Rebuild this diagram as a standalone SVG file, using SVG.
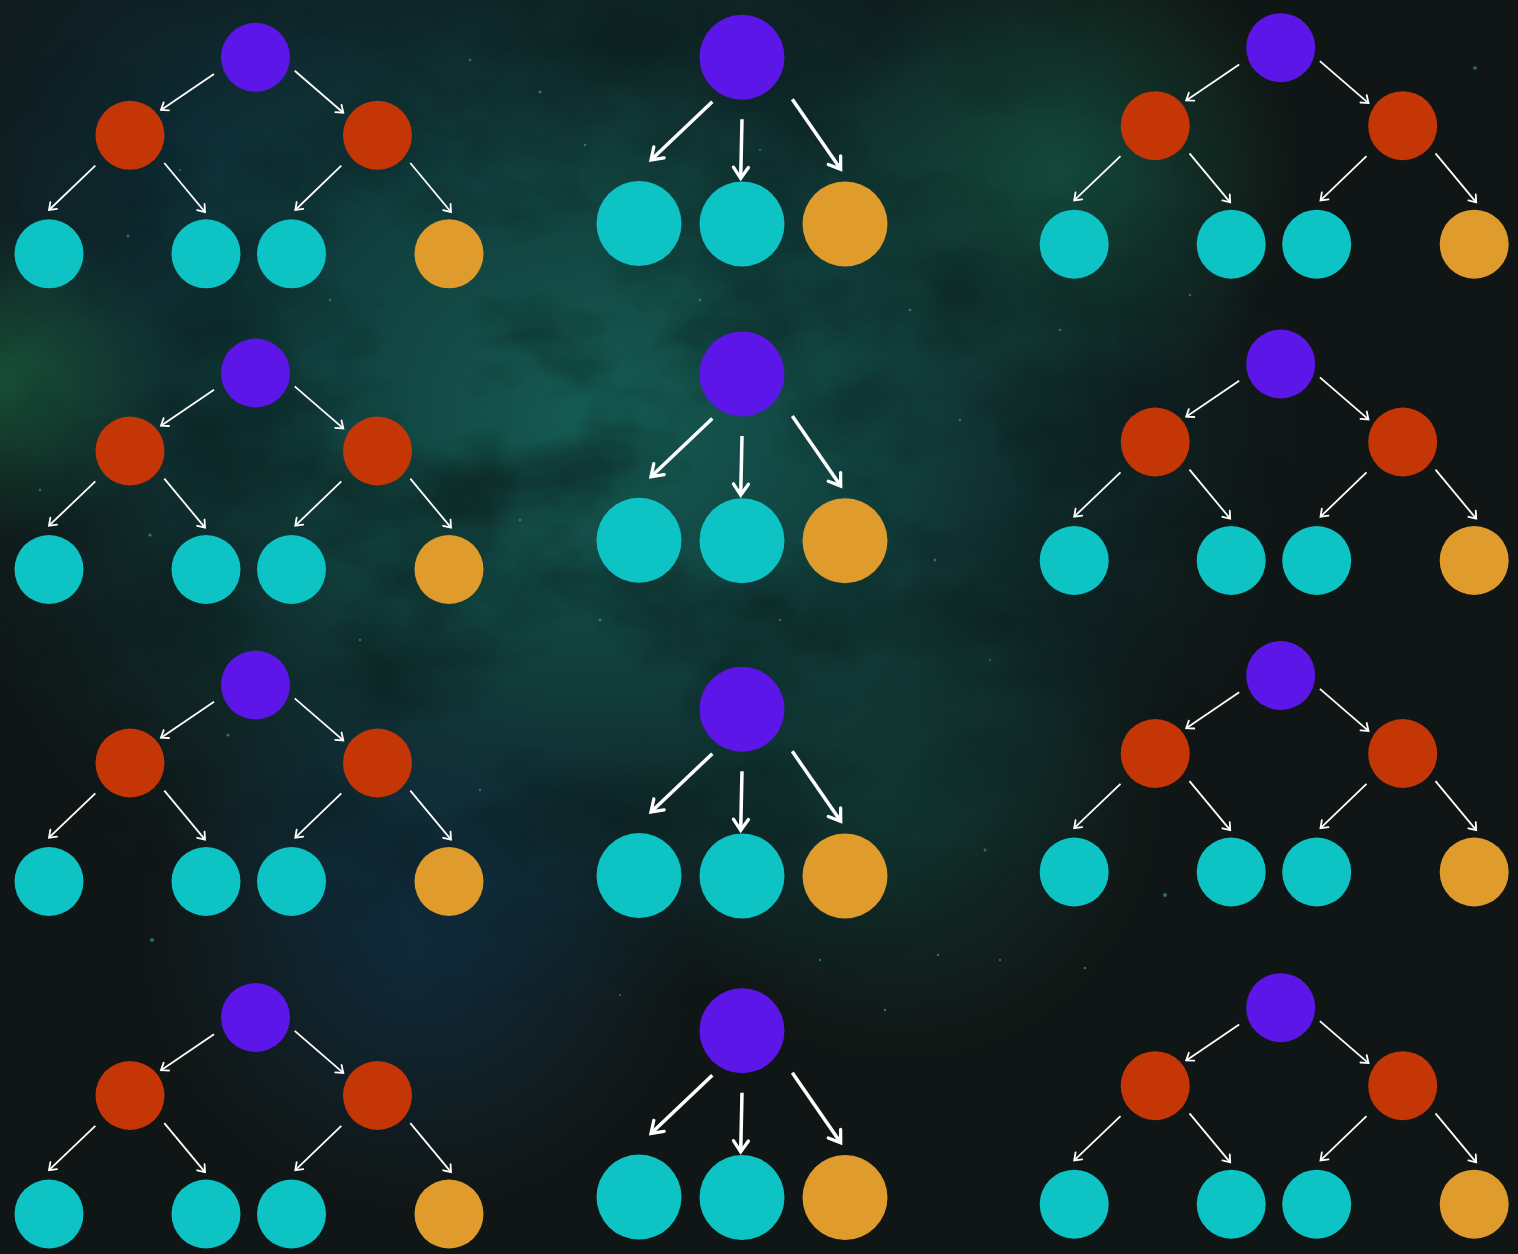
<svg xmlns="http://www.w3.org/2000/svg" width="1518" height="1254" viewBox="0 0 1518 1254">
  <style>
    .p { fill: #5c17e8; }
    .r { fill: #c43606; }
    .t { fill: #0ec3c4; }
    .o { fill: #e09b2d; }
    .sm { stroke: #ffffff; stroke-width: 1.8; fill: none; marker-end: url(#ahS); }
    .lg { stroke: #ffffff; stroke-width: 3.5; fill: none; marker-end: url(#ahL); }
    .star { fill: #3fa69a; }
  </style>
  <defs>
    <marker id="ahS" markerUnits="userSpaceOnUse" orient="auto" overflow="visible" refX="0" refY="0" markerWidth="10" markerHeight="10">
      <path d="M-6.5,-4.8 L0,0 L-6.5,4.8" fill="none" stroke="#ffffff" stroke-width="1.8" stroke-linecap="round" stroke-linejoin="miter"/>
    </marker>
    <marker id="ahL" markerUnits="userSpaceOnUse" orient="auto" overflow="visible" refX="0" refY="0" markerWidth="16" markerHeight="16">
      <path d="M-11,-7.5 L0,0 L-11,7.5" fill="none" stroke="#ffffff" stroke-width="3.3" stroke-linecap="round" stroke-linejoin="miter"/>
    </marker>
    <radialGradient id="g1" gradientUnits="userSpaceOnUse" cx="600" cy="420" r="700" gradientTransform="translate(600 420) scale(1 0.85) translate(-600 -420)">
      <stop offset="0" stop-color="#166158" stop-opacity="0.95"/>
      <stop offset="0.45" stop-color="#114a47" stop-opacity="0.75"/>
      <stop offset="0.8" stop-color="#0e3338" stop-opacity="0.35"/>
      <stop offset="1" stop-color="#0e2a2e" stop-opacity="0"/>
    </radialGradient>
    <radialGradient id="gm" gradientUnits="userSpaceOnUse" cx="600" cy="420" r="700" gradientTransform="translate(600 420) scale(1 0.85) translate(-600 -420)">
      <stop offset="0" stop-color="#ffffff"/>
      <stop offset="0.7" stop-color="#ffffff" stop-opacity="0.6"/>
      <stop offset="1" stop-color="#ffffff" stop-opacity="0"/>
    </radialGradient>
    <radialGradient id="g2" gradientUnits="userSpaceOnUse" cx="230" cy="160" r="380">
      <stop offset="0" stop-color="#0c3040" stop-opacity="0.7"/>
      <stop offset="1" stop-color="#0c3040" stop-opacity="0"/>
    </radialGradient>
    <radialGradient id="g3" gradientUnits="userSpaceOnUse" cx="1060" cy="170" r="240">
      <stop offset="0" stop-color="#155a44" stop-opacity="0.7"/>
      <stop offset="1" stop-color="#155a44" stop-opacity="0"/>
    </radialGradient>
    <radialGradient id="g4" gradientUnits="userSpaceOnUse" cx="10" cy="380" r="160">
      <stop offset="0" stop-color="#1c6440" stop-opacity="0.7"/>
      <stop offset="1" stop-color="#1c6440" stop-opacity="0"/>
    </radialGradient>
    <radialGradient id="g5" gradientUnits="userSpaceOnUse" cx="420" cy="930" r="280">
      <stop offset="0" stop-color="#113a58" stop-opacity="0.6"/>
      <stop offset="1" stop-color="#113a58" stop-opacity="0"/>
    </radialGradient>
    <radialGradient id="g6" gradientUnits="userSpaceOnUse" cx="900" cy="800" r="260">
      <stop offset="0" stop-color="#12483f" stop-opacity="0.55"/>
      <stop offset="1" stop-color="#12483f" stop-opacity="0"/>
    </radialGradient>
    <filter id="tex" x="0" y="0" width="100%" height="100%" color-interpolation-filters="sRGB">
      <feTurbulence type="fractalNoise" baseFrequency="0.006 0.009" numOctaves="4" seed="7"/>
      <feColorMatrix type="matrix" values="0 0 0 0 0.03  0 0 0 0 0.07  0 0 0 0 0.07  0 0 0 -2.4 1.4"/>
    </filter>
    <mask id="nebMask">
      <rect width="1518" height="1254" fill="url(#gm)"/>
    </mask>
  </defs>

  <g id="background">
    <rect width="1518" height="1254" fill="#101615"/>
    <rect width="1518" height="1254" fill="url(#g2)"/>
    <rect width="1518" height="1254" fill="url(#g1)"/>
    <rect width="1518" height="1254" fill="url(#g3)"/>
    <rect width="1518" height="1254" fill="url(#g4)"/>
    <rect width="1518" height="1254" fill="url(#g5)"/>
    <rect width="1518" height="1254" fill="url(#g6)"/>
    <g mask="url(#nebMask)">
      <rect width="1518" height="1254" filter="url(#tex)" opacity="0.6"/>
    </g>
    <g opacity="0.6">
      <circle class="star" cx="540" cy="92" r="1.6"/>
      <circle class="star" cx="585" cy="145" r="1.2"/>
      <circle class="star" cx="470" cy="60" r="1.3"/>
      <circle class="star" cx="128" cy="236" r="1.4"/>
      <circle class="star" cx="180" cy="170" r="1.1"/>
      <circle class="star" cx="330" cy="300" r="1.2"/>
      <circle class="star" cx="150" cy="535" r="1.6"/>
      <circle class="star" cx="40" cy="490" r="1.2"/>
      <circle class="star" cx="228" cy="735" r="1.5"/>
      <circle class="star" cx="152" cy="940" r="2"/>
      <circle class="star" cx="360" cy="640" r="1.2"/>
      <circle class="star" cx="520" cy="520" r="1.3"/>
      <circle class="star" cx="480" cy="790" r="1.2"/>
      <circle class="star" cx="600" cy="620" r="1.4"/>
      <circle class="star" cx="910" cy="310" r="1.3"/>
      <circle class="star" cx="960" cy="420" r="1.2"/>
      <circle class="star" cx="935" cy="560" r="1.4"/>
      <circle class="star" cx="990" cy="660" r="1.1"/>
      <circle class="star" cx="1165" cy="895" r="2"/>
      <circle class="star" cx="985" cy="850" r="1.5"/>
      <circle class="star" cx="885" cy="1010" r="1.3"/>
      <circle class="star" cx="938" cy="955" r="1.2"/>
      <circle class="star" cx="1060" cy="330" r="1.2"/>
      <circle class="star" cx="1475" cy="68" r="1.8"/>
      <circle class="star" cx="1190" cy="295" r="1.2"/>
      <circle class="star" cx="620" cy="995" r="1.1"/>
      <circle class="star" cx="700" cy="300" r="1.3"/>
      <circle class="star" cx="780" cy="620" r="1.2"/>
      <circle class="star" cx="820" cy="960" r="1.2"/>
      <circle class="star" cx="1000" cy="960" r="1.2"/>
      <circle class="star" cx="1085" cy="968" r="1.3"/>
      <circle class="star" cx="760" cy="150" r="1.1"/>
    </g>
  </g>

  <g id="connectors">
    <g transform="translate(255.5 57.3)">
      <line class="sm" x1="-41.5" y1="16.7" x2="-94.5" y2="52.7"/>
      <line class="sm" x1="39.2" y1="13.4" x2="87.8" y2="55.4"/>
      <line class="sm" x1="-160.2" y1="108.4" x2="-206.5" y2="152.7"/>
      <line class="sm" x1="-91.2" y1="105.7" x2="-50.5" y2="154.7"/>
      <line class="sm" x1="85.8" y1="108.4" x2="39.8" y2="152.7"/>
      <line class="sm" x1="154.8" y1="105.7" x2="195.5" y2="154.7"/>
    </g>
    <g transform="translate(255.5 373)">
      <line class="sm" x1="-41.5" y1="16.7" x2="-94.5" y2="52.7"/>
      <line class="sm" x1="39.2" y1="13.4" x2="87.8" y2="55.4"/>
      <line class="sm" x1="-160.2" y1="108.4" x2="-206.5" y2="152.7"/>
      <line class="sm" x1="-91.2" y1="105.7" x2="-50.5" y2="154.7"/>
      <line class="sm" x1="85.8" y1="108.4" x2="39.8" y2="152.7"/>
      <line class="sm" x1="154.8" y1="105.7" x2="195.5" y2="154.7"/>
    </g>
    <g transform="translate(255.5 685)">
      <line class="sm" x1="-41.5" y1="16.7" x2="-94.5" y2="52.7"/>
      <line class="sm" x1="39.2" y1="13.4" x2="87.8" y2="55.4"/>
      <line class="sm" x1="-160.2" y1="108.4" x2="-206.5" y2="152.7"/>
      <line class="sm" x1="-91.2" y1="105.7" x2="-50.5" y2="154.7"/>
      <line class="sm" x1="85.8" y1="108.4" x2="39.8" y2="152.7"/>
      <line class="sm" x1="154.8" y1="105.7" x2="195.5" y2="154.7"/>
    </g>
    <g transform="translate(255.5 1017.5)">
      <line class="sm" x1="-41.5" y1="16.7" x2="-94.5" y2="52.7"/>
      <line class="sm" x1="39.2" y1="13.4" x2="87.8" y2="55.4"/>
      <line class="sm" x1="-160.2" y1="108.4" x2="-206.5" y2="152.7"/>
      <line class="sm" x1="-91.2" y1="105.7" x2="-50.5" y2="154.7"/>
      <line class="sm" x1="85.8" y1="108.4" x2="39.8" y2="152.7"/>
      <line class="sm" x1="154.8" y1="105.7" x2="195.5" y2="154.7"/>
    </g>
    <g transform="translate(1280.7 47.7)">
      <line class="sm" x1="-41.5" y1="16.7" x2="-94.5" y2="52.7"/>
      <line class="sm" x1="39.2" y1="13.4" x2="87.8" y2="55.4"/>
      <line class="sm" x1="-160.2" y1="108.4" x2="-206.5" y2="152.7"/>
      <line class="sm" x1="-91.2" y1="105.7" x2="-50.5" y2="154.7"/>
      <line class="sm" x1="85.8" y1="108.4" x2="39.8" y2="152.7"/>
      <line class="sm" x1="154.8" y1="105.7" x2="195.5" y2="154.7"/>
    </g>
    <g transform="translate(1280.7 364)">
      <line class="sm" x1="-41.5" y1="16.7" x2="-94.5" y2="52.7"/>
      <line class="sm" x1="39.2" y1="13.4" x2="87.8" y2="55.4"/>
      <line class="sm" x1="-160.2" y1="108.4" x2="-206.5" y2="152.7"/>
      <line class="sm" x1="-91.2" y1="105.7" x2="-50.5" y2="154.7"/>
      <line class="sm" x1="85.8" y1="108.4" x2="39.8" y2="152.7"/>
      <line class="sm" x1="154.8" y1="105.7" x2="195.5" y2="154.7"/>
    </g>
    <g transform="translate(1280.7 675.5)">
      <line class="sm" x1="-41.5" y1="16.7" x2="-94.5" y2="52.7"/>
      <line class="sm" x1="39.2" y1="13.4" x2="87.8" y2="55.4"/>
      <line class="sm" x1="-160.2" y1="108.4" x2="-206.5" y2="152.7"/>
      <line class="sm" x1="-91.2" y1="105.7" x2="-50.5" y2="154.7"/>
      <line class="sm" x1="85.8" y1="108.4" x2="39.8" y2="152.7"/>
      <line class="sm" x1="154.8" y1="105.7" x2="195.5" y2="154.7"/>
    </g>
    <g transform="translate(1280.7 1007.7)">
      <line class="sm" x1="-41.5" y1="16.7" x2="-94.5" y2="52.7"/>
      <line class="sm" x1="39.2" y1="13.4" x2="87.8" y2="55.4"/>
      <line class="sm" x1="-160.2" y1="108.4" x2="-206.5" y2="152.7"/>
      <line class="sm" x1="-91.2" y1="105.7" x2="-50.5" y2="154.7"/>
      <line class="sm" x1="85.8" y1="108.4" x2="39.8" y2="152.7"/>
      <line class="sm" x1="154.8" y1="105.7" x2="195.5" y2="154.7"/>
    </g>
    <g transform="translate(742 57.3)">
      <line class="lg" x1="-29.7" y1="44.4" x2="-91" y2="102.7"/>
      <line class="lg" x1="0" y1="62" x2="-1.3" y2="121"/>
      <line class="lg" x1="50.3" y1="42" x2="98.7" y2="112"/>
    </g>
    <g transform="translate(742 374)">
      <line class="lg" x1="-29.7" y1="44.4" x2="-91" y2="102.7"/>
      <line class="lg" x1="0" y1="62" x2="-1.3" y2="121"/>
      <line class="lg" x1="50.3" y1="42" x2="98.7" y2="112"/>
    </g>
    <g transform="translate(742 709.3)">
      <line class="lg" x1="-29.7" y1="44.4" x2="-91" y2="102.7"/>
      <line class="lg" x1="0" y1="62" x2="-1.3" y2="121"/>
      <line class="lg" x1="50.3" y1="42" x2="98.7" y2="112"/>
    </g>
    <g transform="translate(742 1030.8)">
      <line class="lg" x1="-29.7" y1="44.4" x2="-91" y2="102.7"/>
      <line class="lg" x1="0" y1="62" x2="-1.3" y2="121"/>
      <line class="lg" x1="50.3" y1="42" x2="98.7" y2="112"/>
    </g>
  </g>

  <g id="tree-a1" transform="translate(255.5 57.3)">
    <g id="a1-root"><circle class="p" cx="0" cy="0" r="34.5"/></g>
    <g id="a1-l"><circle class="r" cx="-125.5" cy="78" r="34.5"/></g>
    <g id="a1-r"><circle class="r" cx="122" cy="78" r="34.5"/></g>
    <g id="a1-ll"><circle class="t" cx="-206.5" cy="196.5" r="34.5"/></g>
    <g id="a1-lr"><circle class="t" cx="-49.5" cy="196.5" r="34.5"/></g>
    <g id="a1-rl"><circle class="t" cx="36" cy="196.5" r="34.5"/></g>
    <g id="a1-rr"><circle class="o" cx="193.5" cy="196.5" r="34.5"/></g>
  </g>
  <g id="tree-a2" transform="translate(255.5 373)">
    <g id="a2-root"><circle class="p" cx="0" cy="0" r="34.5"/></g>
    <g id="a2-l"><circle class="r" cx="-125.5" cy="78" r="34.5"/></g>
    <g id="a2-r"><circle class="r" cx="122" cy="78" r="34.5"/></g>
    <g id="a2-ll"><circle class="t" cx="-206.5" cy="196.5" r="34.5"/></g>
    <g id="a2-lr"><circle class="t" cx="-49.5" cy="196.5" r="34.5"/></g>
    <g id="a2-rl"><circle class="t" cx="36" cy="196.5" r="34.5"/></g>
    <g id="a2-rr"><circle class="o" cx="193.5" cy="196.5" r="34.5"/></g>
  </g>
  <g id="tree-a3" transform="translate(255.5 685)">
    <g id="a3-root"><circle class="p" cx="0" cy="0" r="34.5"/></g>
    <g id="a3-l"><circle class="r" cx="-125.5" cy="78" r="34.5"/></g>
    <g id="a3-r"><circle class="r" cx="122" cy="78" r="34.5"/></g>
    <g id="a3-ll"><circle class="t" cx="-206.5" cy="196.5" r="34.5"/></g>
    <g id="a3-lr"><circle class="t" cx="-49.5" cy="196.5" r="34.5"/></g>
    <g id="a3-rl"><circle class="t" cx="36" cy="196.5" r="34.5"/></g>
    <g id="a3-rr"><circle class="o" cx="193.5" cy="196.5" r="34.5"/></g>
  </g>
  <g id="tree-a4" transform="translate(255.5 1017.5)">
    <g id="a4-root"><circle class="p" cx="0" cy="0" r="34.5"/></g>
    <g id="a4-l"><circle class="r" cx="-125.5" cy="78" r="34.5"/></g>
    <g id="a4-r"><circle class="r" cx="122" cy="78" r="34.5"/></g>
    <g id="a4-ll"><circle class="t" cx="-206.5" cy="196.5" r="34.5"/></g>
    <g id="a4-lr"><circle class="t" cx="-49.5" cy="196.5" r="34.5"/></g>
    <g id="a4-rl"><circle class="t" cx="36" cy="196.5" r="34.5"/></g>
    <g id="a4-rr"><circle class="o" cx="193.5" cy="196.5" r="34.5"/></g>
  </g>

  <g id="tree-c1" transform="translate(1280.7 47.7)">
    <g id="c1-root"><circle class="p" cx="0" cy="0" r="34.5"/></g>
    <g id="c1-l"><circle class="r" cx="-125.5" cy="78" r="34.5"/></g>
    <g id="c1-r"><circle class="r" cx="122" cy="78" r="34.5"/></g>
    <g id="c1-ll"><circle class="t" cx="-206.5" cy="196.5" r="34.5"/></g>
    <g id="c1-lr"><circle class="t" cx="-49.5" cy="196.5" r="34.5"/></g>
    <g id="c1-rl"><circle class="t" cx="36" cy="196.5" r="34.5"/></g>
    <g id="c1-rr"><circle class="o" cx="193.5" cy="196.5" r="34.5"/></g>
  </g>
  <g id="tree-c2" transform="translate(1280.7 364)">
    <g id="c2-root"><circle class="p" cx="0" cy="0" r="34.5"/></g>
    <g id="c2-l"><circle class="r" cx="-125.5" cy="78" r="34.5"/></g>
    <g id="c2-r"><circle class="r" cx="122" cy="78" r="34.5"/></g>
    <g id="c2-ll"><circle class="t" cx="-206.5" cy="196.5" r="34.5"/></g>
    <g id="c2-lr"><circle class="t" cx="-49.5" cy="196.5" r="34.5"/></g>
    <g id="c2-rl"><circle class="t" cx="36" cy="196.5" r="34.5"/></g>
    <g id="c2-rr"><circle class="o" cx="193.5" cy="196.5" r="34.5"/></g>
  </g>
  <g id="tree-c3" transform="translate(1280.7 675.5)">
    <g id="c3-root"><circle class="p" cx="0" cy="0" r="34.5"/></g>
    <g id="c3-l"><circle class="r" cx="-125.5" cy="78" r="34.5"/></g>
    <g id="c3-r"><circle class="r" cx="122" cy="78" r="34.5"/></g>
    <g id="c3-ll"><circle class="t" cx="-206.5" cy="196.5" r="34.5"/></g>
    <g id="c3-lr"><circle class="t" cx="-49.5" cy="196.5" r="34.5"/></g>
    <g id="c3-rl"><circle class="t" cx="36" cy="196.5" r="34.5"/></g>
    <g id="c3-rr"><circle class="o" cx="193.5" cy="196.5" r="34.5"/></g>
  </g>
  <g id="tree-c4" transform="translate(1280.7 1007.7)">
    <g id="c4-root"><circle class="p" cx="0" cy="0" r="34.5"/></g>
    <g id="c4-l"><circle class="r" cx="-125.5" cy="78" r="34.5"/></g>
    <g id="c4-r"><circle class="r" cx="122" cy="78" r="34.5"/></g>
    <g id="c4-ll"><circle class="t" cx="-206.5" cy="196.5" r="34.5"/></g>
    <g id="c4-lr"><circle class="t" cx="-49.5" cy="196.5" r="34.5"/></g>
    <g id="c4-rl"><circle class="t" cx="36" cy="196.5" r="34.5"/></g>
    <g id="c4-rr"><circle class="o" cx="193.5" cy="196.5" r="34.5"/></g>
  </g>

  <g id="tree-b1" transform="translate(742 57.3)">
    <g id="b1-root"><circle class="p" cx="0" cy="0" r="42.5"/></g>
    <g id="b1-c1"><circle class="t" cx="-103" cy="166.3" r="42.5"/></g>
    <g id="b1-c2"><circle class="t" cx="0" cy="166.7" r="42.5"/></g>
    <g id="b1-c3"><circle class="o" cx="103" cy="166.7" r="42.5"/></g>
  </g>
  <g id="tree-b2" transform="translate(742 374)">
    <g id="b2-root"><circle class="p" cx="0" cy="0" r="42.5"/></g>
    <g id="b2-c1"><circle class="t" cx="-103" cy="166.3" r="42.5"/></g>
    <g id="b2-c2"><circle class="t" cx="0" cy="166.7" r="42.5"/></g>
    <g id="b2-c3"><circle class="o" cx="103" cy="166.7" r="42.5"/></g>
  </g>
  <g id="tree-b3" transform="translate(742 709.3)">
    <g id="b3-root"><circle class="p" cx="0" cy="0" r="42.5"/></g>
    <g id="b3-c1"><circle class="t" cx="-103" cy="166.3" r="42.5"/></g>
    <g id="b3-c2"><circle class="t" cx="0" cy="166.7" r="42.5"/></g>
    <g id="b3-c3"><circle class="o" cx="103" cy="166.7" r="42.5"/></g>
  </g>
  <g id="tree-b4" transform="translate(742 1030.8)">
    <g id="b4-root"><circle class="p" cx="0" cy="0" r="42.5"/></g>
    <g id="b4-c1"><circle class="t" cx="-103" cy="166.3" r="42.5"/></g>
    <g id="b4-c2"><circle class="t" cx="0" cy="166.7" r="42.5"/></g>
    <g id="b4-c3"><circle class="o" cx="103" cy="166.7" r="42.5"/></g>
  </g>
</svg>
